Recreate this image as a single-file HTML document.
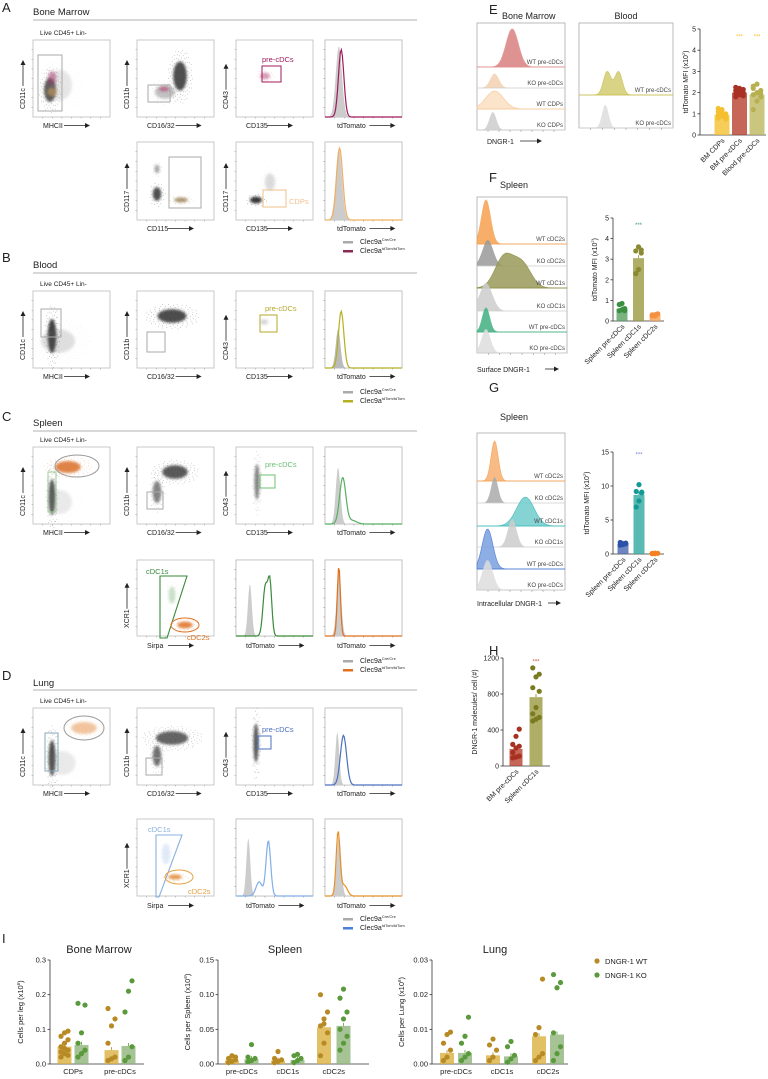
<!DOCTYPE html>
<html><head><meta charset="utf-8"><style>
body{margin:0;background:#fff}
svg{display:block;font-family:"Liberation Sans",sans-serif}
</style></head><body>
<svg id="fig" width="768" height="1079" viewBox="0 0 768 1079" xmlns="http://www.w3.org/2000/svg">
<defs><filter id="bl" x="-50%" y="-50%" width="200%" height="200%"><feGaussianBlur stdDeviation="1.4"/></filter></defs>
</svg>
<script>
// ---------- Data (bar charts) ----------
const eCats=["BM CDPs","BM pre-cDCs","Blood pre-cDCs"];
const eMeans=[0.95,2.0,1.9];
const ePts=[[0.8,0.9,1.0,1.1,1.2,0.85,0.95,1.05,0.75,1.25],[1.8,1.9,2.0,2.1,2.2,1.85,1.95,2.05,2.15,2.25],[1.2,1.6,1.8,1.9,2.0,2.1,2.3,2.4,1.95,2.2]];
const fCats=["Spleen pre-cDCs","Spleen cDC1s","Spleen cDC2s"];
const fMeans=[0.6,3.05,0.3];
const fPts=[[0.5,0.55,0.6,0.8,0.85,0.5],[2.3,2.5,3.3,3.4,3.6,3.45],[0.25,0.3,0.35,0.3,0.25]];
const gCats=["Spleen pre-cDCs","Spleen cDC1s","Spleen cDC2s"];
const gMeans=[1.5,8.7,0.1];
const gPts=[[1.3,1.5,1.6,1.7,1.4,1.5],[6.9,7.8,9.0,9.2,10.2,9.1],[0.05,0.1,0.1,0.1,0.05]];
const hCats=["BM pre-cDCs","Spleen cDC1s"];
const hMeans=[190,765];
const hPts=[[90,100,110,150,200,220,240,330,410],[500,520,540,580,650,830,870,990,1020,1090]];
const iBmCats=["CDPs","pre-cDCs"];
const iBmWT=[0.05,0.04];const iBmKO=[0.055,0.052];
const iBmWTpts=[[0.02,0.03,0.04,0.05,0.06,0.07,0.08,0.09,0.095,0.035,0.045,0.025],[0.01,0.015,0.02,0.06,0.11,0.13,0.16]];
const iBmKOpts=[[0.02,0.03,0.04,0.06,0.09,0.17,0.175],[0.01,0.02,0.05,0.15,0.21,0.24]];
const iSpCats=["pre-cDCs","cDC1s","cDC2s"];
const iSpWT=[0.005,0.005,0.053];const iSpKO=[0.007,0.006,0.055];
const iSpWTpts=[[0.002,0.004,0.006,0.008,0.012,0.01],[0.002,0.004,0.006,0.008,0.018],[0.012,0.03,0.045,0.055,0.065,0.075,0.1,0.058]];
const iSpKOpts=[[0.003,0.005,0.008,0.01,0.028],[0.002,0.005,0.008,0.012,0.014],[0.02,0.03,0.04,0.05,0.065,0.075,0.095,0.108]];
const iLuCats=["pre-cDCs","cDC1s","cDC2s"];
const iLuWT=[0.0032,0.0025,0.008];const iLuKO=[0.0032,0.0022,0.0085];
const iLuWTpts=[[0.001,0.002,0.004,0.006,0.0085,0.0092],[0.001,0.002,0.004,0.0055,0.0072],[0.001,0.002,0.003,0.0085,0.0105,0.0245]];
const iLuKOpts=[[0.001,0.002,0.003,0.006,0.008,0.0135],[0.0005,0.0015,0.0025,0.005,0.0065],[0.001,0.003,0.005,0.009,0.022,0.0235,0.0258]];

const S=document.getElementById('fig');const NS="http://www.w3.org/2000/svg";
function el(t,a,p){const e=document.createElementNS(NS,t);for(const k in a)e.setAttribute(k,a[k]);(p||S).appendChild(e);return e;}
function tx(x,y,s,size,opt){opt=opt||{};const e=el('text',{x:x,y:y,'font-size':size,fill:opt.fill||'#222','text-anchor':opt.anchor||'start'});if(opt.rot)e.setAttribute('transform',`rotate(${opt.rot} ${x} ${y})`);e.textContent=s;return e;}
function arrowH(x,y,len){el('line',{x1:x,y1:y,x2:x+len-4,y2:y,stroke:'#222','stroke-width':0.8});el('path',{d:`M${x+len} ${y} l-5 -2.5 v5z`,fill:'#222'});}
function arrowV(x,y,len){el('line',{x1:x,y1:y,x2:x,y2:y-len+4,stroke:'#222','stroke-width':0.8});el('path',{d:`M${x} ${y-len} l-2.5 5 h5z`,fill:'#222'});}

function section(letter,ly,title,ty,lineY){tx(2,ly,letter,13,{name:'panel-letter-'+letter.toLowerCase()});tx(33,ty,title,9.5,{name:'section-title'});const l=el('line',{x1:33,y1:lineY,x2:417,y2:lineY,stroke:'#999','stroke-width':0.8});}
section('A',12,'Bone Marrow',15,20);
section('B',262,'Blood',268,273);
section('C',421,'Spleen',426,431);
section('D',680,'Lung',686,690);

const CX=[33,137,236,325],W=77;
function box(x,y,h,name,ticks){const g=el('rect',{x:x,y:y,width:W,height:h,fill:'#fff',stroke:'#bbb','stroke-width':0.8});
 for(let i=1;i<8;i++){el('line',{x1:x+i*W/8,y1:y+h,x2:x+i*W/8,y2:y+h+1.5,stroke:'#999','stroke-width':0.5});if(ticks)el('line',{x1:x,y1:y+i*h/8,x2:x-1.5,y2:y+i*h/8,stroke:'#999','stroke-width':0.5});}}
function xlab(x,y,s){tx(x+10,y,s,7,{name:'x-axis-label'});arrowH(x+12+s.length*3.8,y-2.5,26);}
function ylab(x,y,h,s){tx(x-8,y+h-8,s,7,{rot:-90,name:'y-axis-label'});arrowV(x-10,y+h-12-s.length*3.8,26);}
// cell cloud: blurred core + deterministic golden-angle speckle texture
function cloud(cx,cy,rx,ry,c,op){const e=el('ellipse',{cx:cx,cy:cy,rx:rx*0.85,ry:ry*0.85,fill:c,opacity:op,filter:'url(#bl)'});
 const n=Math.round(rx*ry*0.9);let d='';for(let i=0;i<n;i++){const r=Math.sqrt((i+0.5)/n)*1.6,a=i*2.39996;d+=`M${(cx+Math.cos(a)*r*rx).toFixed(1)} ${(cy+Math.sin(a)*r*ry).toFixed(1)}h0.7v0.7h-0.7z`;}
 el('path',{d:d,fill:c,opacity:op*0.55});}
function gate(x,y,w,h,c,lab,lx,ly,name){const r=el('rect',{x:x,y:y,width:w,height:h,fill:'none',stroke:c,'stroke-width':1});if(lab)tx(lx,ly,lab,7.5,{fill:c,name:'gate-label'});}
function egate(cx,cy,rx,ry,c,name){const e=el('ellipse',{cx:cx,cy:cy,rx:rx,ry:ry,fill:'none',stroke:c,'stroke-width':1});}
function hist(x,y,h,curves){box(x,y,h,'histogram-plot',true);curves.forEach(c=>{let d=`M${x} ${y+h}`;for(let i=0;i<=80;i++){const u=i/80;let v=0;c.p.forEach(p=>{v+=p[2]*Math.exp(-((u-p[0])**2)/(2*p[1]*p[1]));});d+=` L${x+u*W} ${y+h-v*(h-6)}`;}const p=el('path',{d:d,fill:c.fill||'none',stroke:c.stroke||'none','stroke-width':1.2});});}
function legend(y,c2){el('rect',{x:343,y:y-3,width:10,height:2.5,fill:'#aaa'});tx(360,y,'',7,{name:'legend-entry'}).innerHTML='Clec9a<tspan font-size="4" dy="-3">Cre/Cre</tspan>';
 el('rect',{x:343,y:y+6,width:10,height:2.5,fill:c2});tx(360,y+9,'',7,{name:'legend-entry'}).innerHTML='Clec9a<tspan font-size="4" dy="-3">tdTom/tdTom</tspan>';}
function row1(y,opts){const h=77;
 tx(40,y-5,'Live CD45+ Lin-',6.5,{name:'gating-title'});
 for(let i=0;i<4;i++)box(CX[i],y,h,'flow-plot-'+(i+1),true);
 const L=[['MHCII','CD11c'],['CD16/32','CD11b'],['CD135','CD43'],['tdTomato',null]];
 L.forEach((l,i)=>{xlab(CX[i]+(i==3?2:0),y+h+11,l[0]);if(l[1])ylab(CX[i],y,h,l[1]);});
 opts(y,h);}
// A
row1(40,(y,h)=>{cloud(50,y+50,7,14,'#333',0.8);cloud(60,y+45,14,18,'#888',0.2);cloud(52,y+38,5,8,'#a0306a',0.5);cloud(52,y+52,6,5,'#d9a35a',0.5);gate(38,y+15,24,56,'#aaa');
 cloud(180,y+36,8,17,'#333',0.85);cloud(165,y+52,12,8,'#555',0.35);cloud(164,y+49,6,3,'#b04070',0.6);gate(148,y+45,22,17,'#aaa');
 cloud(265,y+36,6,4,'#b04070',0.5);gate(262,y+26,19,16,'#a01a5a','pre-cDCs',262,y+22);
 hist(325,y,h,[{p:[[0.18,0.04,1]],fill:'#ccc'},{p:[[0.21,0.035,0.95]],stroke:'#a01a5a'}]);});
(function(){const y=142,h=78;for(let i=1;i<4;i++)box(CX[i],y,h,'flow-plot-row2-'+i,true);
 cloud(157,y+52,5,8,'#333',0.85);cloud(157,y+27,3,5,'#555',0.5);cloud(181,y+58,8,3,'#8a6a3a',0.7);gate(169,y+15,32,51,'#aaa');
 cloud(256,y+58,7,4,'#222',0.9);cloud(270,y+40,6,10,'#777',0.25);gate(263,y+48,23,17,'#f2c08a','CDPs',289,y+62);
 hist(325,y,h,[{p:[[0.18,0.04,1]],fill:'#ccc'},{p:[[0.19,0.04,1]],stroke:'#f0b060'}]);
 xlab(137,y+h+11,'CD115');ylab(137,y,h,'CD117');xlab(236,y+h+11,'CD135');ylab(236,y,h,'CD117');xlab(327,y+h+11,'tdTomato');
 legend(244,'#8b2a50');})();
// B
row1(291,(y,h)=>{cloud(52,y+45,5,20,'#222',0.85);cloud(58,y+50,20,14,'#666',0.2);gate(41,y+18,20,28,'#aaa');
 cloud(172,y+25,17,8,'#222',0.8);gate(147,y+41,18,20,'#aaa');
 gate(260,y+24,17,17,'#b5a82a','pre-cDCs',265,y+20);cloud(264,y+31,5,3,'#bbb',0.6);
 hist(325,y,h,[{p:[[0.17,0.03,0.55]],fill:'#bbb'},{p:[[0.21,0.035,0.8]],stroke:'#b5b020'}]);});
legend(394,'#b5b020');
// C
row1(447,(y,h)=>{cloud(68,y+20,15,7,'#d8661a',0.8);egate(77,y+19,22,11,'#999','cdc-gate');cloud(52,y+50,4,21,'#333',0.8);cloud(60,y+55,14,14,'#777',0.15);gate(48,y+25,8,40,'#9c9');
 cloud(175,y+25,15,8,'#333',0.8);cloud(157,y+45,5,13,'#444',0.65);gate(147,y+45,16,17,'#aaa');
 cloud(257,y+35,3,21,'#444',0.65);gate(260,y+28,15,13,'#6cc070','pre-cDCs',265,y+20);
 hist(325,y,h,[{p:[[0.17,0.03,0.8]],fill:'#ccc'},{p:[[0.23,0.04,0.65],[0.35,0.06,0.05]],stroke:'#55b060'}]);});
(function(){const y=560,h=76;for(let i=1;i<4;i++)box(CX[i],y,h,'flow-plot-row2-'+i,true);
 el('path',{d:`M${160} ${y+16} h27 l-20 ${h-14} h-7z`,fill:'none',stroke:'#3a8a3a','stroke-width':1.1});tx(146,y+14,'cDC1s',7.5,{fill:'#3a8a3a',name:'gate-label'});
 cloud(172,y+35,4,10,'#6a6',0.35);cloud(185,y+65,9,4,'#e07020',0.85);egate(185,y+65,14,7,'#e07020','cdc2-gate');tx(187,y+80,'cDC2s',7.5,{fill:'#e07020',name:'gate-label'});
 hist(236,y,h,[{p:[[0.18,0.025,0.75]],fill:'#ccc'},{p:[[0.38,0.03,0.7],[0.44,0.025,0.75]],stroke:'#3a8a3a'}]);
 hist(325,y,h,[{p:[[0.18,0.03,0.9]],fill:'#ccc'},{p:[[0.18,0.02,1]],stroke:'#e07020'}]);
 xlab(137,y+h+12,'Sirpa');ylab(137,y,h,'XCR1');xlab(236,y+h+12,'tdTomato');xlab(327,y+h+12,'tdTomato');
 legend(663,'#e07020');})();
// D
row1(708,(y,h)=>{cloud(84,y+20,15,7,'#e8a060',0.6);egate(84,y+20,20,12,'#999','cdc-gate');cloud(52,y+50,4,21,'#333',0.85);cloud(62,y+55,16,14,'#777',0.15);gate(45,y+25,13,38,'#8ab');
 cloud(172,y+30,19,8,'#333',0.75);cloud(157,y+48,5,12,'#444',0.75);gate(146,y+50,16,17,'#aaa');
 cloud(256,y+35,3,23,'#333',0.8);gate(258,y+28,13,13,'#4a70c0','pre-cDCs',262,y+24);
 hist(325,y,h,[{p:[[0.16,0.025,0.75]],fill:'#ccc'},{p:[[0.24,0.04,0.7]],stroke:'#4a70c0'}]);});
(function(){const y=819,h=77;for(let i=1;i<4;i++)box(CX[i],y,h,'flow-plot-row2-'+i,true);
 el('path',{d:`M${156} ${y+16} h26 l-23 ${h-15} h-3z`,fill:'none',stroke:'#8ab0e0','stroke-width':1.1});tx(148,y+13,'cDC1s',7.5,{fill:'#8ab0e0',name:'gate-label'});
 cloud(166,y+35,5,12,'#9bbbe8',0.3);cloud(175,y+58,8,3,'#e08020',0.8);egate(179,y+58,14,7,'#e8a040','cdc2-gate');tx(188,y+75,'cDC2s',7.5,{fill:'#e8a040',name:'gate-label'});
 hist(236,y,h,[{p:[[0.16,0.025,0.82]],fill:'#ccc'},{p:[[0.42,0.03,0.78],[0.3,0.04,0.2]],stroke:'#80aee8'}]);
 hist(325,y,h,[{p:[[0.18,0.03,0.85]],fill:'#ccc'},{p:[[0.17,0.025,0.9],[0.25,0.04,0.15]],stroke:'#e8902a'}]);
 xlab(137,y+h+12,'Sirpa');xlab(236,y+h+12,'tdTomato');xlab(327,y+h+12,'tdTomato');ylab(137,y,h,'XCR1');
 legend(921,'#4a80d8');})();

function stack(x,y,w,h,rows,name){const r=el('rect',{x:x,y:y,width:w,height:h,fill:'#fff',stroke:'#aaa','stroke-width':0.8});
 rows.forEach(rw=>{const base=rw.y1;let d=`M${x} ${base}`;for(let i=0;i<=80;i++){const u=i/80;let v=0;rw.p.forEach(p=>{v+=p[2]*Math.exp(-((u-p[0])**2)/(2*p[1]*p[1]));});d+=` L${x+u*w} ${base-v*rw.hgt}`;}d+=` L${x+w} ${base}Z`;
  const p=el('path',{d:d,fill:rw.fill,stroke:rw.stroke||'none','stroke-width':0.8,opacity:0.85});
  el('line',{x1:x,y1:base,x2:x+w,y2:base,stroke:rw.stroke||'#ccc','stroke-width':0.7});tx(x+w-2,base-3,rw.lab,6,{anchor:'end',fill:'#444',name:'row-label'});});
 for(let i=1;i<8;i++)el('line',{x1:x+i*w/8,y1:y+h,x2:x+i*w/8,y2:y+h+2,stroke:'#888','stroke-width':0.5});}
tx(489,14,'E',13,{name:'panel-letter-e'});
tx(502,19,'Bone Marrow',9,{name:'histogram-title'});tx(626,19,'Blood',9,{anchor:'middle',name:'histogram-title'});
stack(477,23,88,107,[{y1:67,p:[[0.4,0.07,1]],fill:'#d98080',stroke:'#e08a8a',hgt:38,lab:'WT pre-cDCs'},{y1:88,p:[[0.2,0.05,0.8]],fill:'#f2d0b0',hgt:18,lab:'KO pre-cDCs'},{y1:109,p:[[0.2,0.1,0.9]],fill:'#fbe0c0',stroke:'#f5c79a',hgt:20,lab:'WT CDPs'},{y1:130,p:[[0.18,0.04,0.9]],fill:'#ccc',hgt:20,lab:'KO CDPs'}],'bm-dngr1-histograms');
stack(579,23,94,105,[{y1:95,p:[[0.3,0.04,0.9],[0.42,0.04,0.9]],fill:'#d2cc70',stroke:'#c8c050',hgt:26,lab:'WT pre-cDCs'},{y1:128,p:[[0.28,0.035,0.9]],fill:'#ddd',hgt:26,lab:'KO pre-cDCs'}],'blood-dngr1-histograms');
tx(487,144,'DNGR-1',7,{name:'x-axis-label'});arrowH(520,141,22);
tx(489,182,'F',13,{name:'panel-letter-f'});tx(500,188,'Spleen',9,{name:'section-title'});
stack(477,197,90,156,[{y1:244,p:[[0.1,0.05,1]],fill:'#f5a050',stroke:'#f5a050',hgt:44,lab:'WT cDC2s'},{y1:266,p:[[0.12,0.06,1]],fill:'#999',hgt:26,lab:'KO cDC2s'},{y1:288,p:[[0.3,0.1,0.9],[0.5,0.1,0.7]],fill:'#9a9a5a',stroke:'#8a8a40',hgt:34,lab:'WT cDC1s'},{y1:311,p:[[0.1,0.07,1]],fill:'#ccc',hgt:28,lab:'KO cDC1s'},{y1:332,p:[[0.1,0.04,1]],fill:'#40b080',stroke:'#40b080',hgt:24,lab:'WT pre-cDCs'},{y1:353,p:[[0.1,0.05,1]],fill:'#ddd',hgt:24,lab:'KO pre-cDCs'}],'spleen-surface-histograms');
tx(477,372,'Surface DNGR-1',7,{name:'x-axis-label'});arrowH(545,369,14);
tx(489,392,'G',13,{name:'panel-letter-g'});tx(500,420,'Spleen',9,{name:'section-title'});
stack(477,433,88,157,[{y1:481,p:[[0.2,0.04,1]],fill:'#f7b070',stroke:'#f5a050',hgt:40,lab:'WT cDC2s'},{y1:503,p:[[0.2,0.04,1]],fill:'#aaa',hgt:26,lab:'KO cDC2s'},{y1:526,p:[[0.55,0.1,0.9]],fill:'#70cccc',stroke:'#40b8b8',hgt:32,lab:'WT cDC1s'},{y1:547,p:[[0.4,0.05,1]],fill:'#ccc',hgt:28,lab:'KO cDC1s'},{y1:569,p:[[0.12,0.06,1]],fill:'#7aa0e0',stroke:'#4a78d0',hgt:40,lab:'WT pre-cDCs'},{y1:590,p:[[0.12,0.06,1]],fill:'#ddd',hgt:30,lab:'KO pre-cDCs'}],'spleen-intracellular-histograms');
tx(477,606,'Intracellular DNGR-1',7,{name:'x-axis-label'});arrowH(548,603,13);
tx(489,655,'H',13,{name:'panel-letter-h'});
tx(2,943,'I',13,{name:'panel-letter-i'});

function bars(o){const ys=v=>o.y0-(v/o.max)*(o.y0-o.y1);
 el('line',{x1:o.ax,y1:o.y1,x2:o.ax,y2:o.y0,stroke:'#333','stroke-width':0.8});el('line',{x1:o.ax,y1:o.y0,x2:o.xend,y2:o.y0,stroke:'#333','stroke-width':0.8});
 o.ticks.forEach((t,i)=>{const y=ys(t);el('line',{x1:o.ax-2.5,y1:y,x2:o.ax,y2:y,stroke:'#333','stroke-width':0.8});tx(o.ax-4,y+2.5,o.tickLab[i],o.fs,{anchor:'end',name:'y-tick-label'});});
 tx(o.ylx,(o.y0+o.y1)/2,'',o.fs,{anchor:'middle',rot:-90,name:'y-axis-title'}).innerHTML=o.ytitle;
 o.series.forEach(s=>{s.means.forEach((m,i)=>{const cx=o.cx(i,s.k),y=ys(m);const b=el('rect',{x:cx-o.bw/2,y:y,width:o.bw,height:o.y0-y,fill:s.fill[i%s.fill.length],opacity:0.8});
   el('line',{x1:cx,y1:y,x2:cx,y2:y-3,stroke:s.pc[i%s.pc.length],'stroke-width':0.8});
   s.pts[i].forEach((v,j)=>{const d=el('circle',{cx:cx+((j%3)-1)*o.bw*0.25,cy:ys(v),r:o.r,fill:s.pc[i%s.pc.length]});});});});
 o.cats.forEach((c,i)=>{const cx=o.cx(i,o.mid);if(o.rot)tx(cx+3,o.y0+6,c,o.fs,{anchor:'end',rot:-45,name:'x-tick-label'});else tx(cx,o.y0+10,c,o.fs,{anchor:'middle',name:'x-tick-label'});});
 (o.stars||[]).forEach(st=>tx(o.cx(st[0],0),ys(st[1])+3,'***',6,{anchor:'middle',fill:st[2],name:'significance-marker'}));}
bars({ax:700,y0:135,y1:29,xend:766,max:5,ticks:[0,1,2,3,4,5],tickLab:['0','1','2','3','4','5'],fs:7,ylx:688,ytitle:'tdTomato MFI (x10<tspan font-size="4" dy="-3">2</tspan><tspan dy="3">)</tspan>',cats:eCats,bw:15,r:2.6,rot:true,mid:0,
 cx:(i)=>722+i*17.5,series:[{k:0,means:eMeans,pts:ePts,fill:['#f5c030','#b84030','#bdb860'],pc:['#f5c030','#a83025','#b8b050']}],stars:[[1,4.7,'#f5c030'],[2,4.7,'#f5c030']]});
bars({ax:613,y0:321,y1:218,xend:664,max:5,ticks:[0,1,2,3,4,5],tickLab:['0','1','2','3','4','5'],fs:7,ylx:597,ytitle:'tdTomato MFI (x10<tspan font-size="4" dy="-3">2</tspan><tspan dy="3">)</tspan>',cats:fCats,bw:11,r:2.6,rot:true,mid:0,
 cx:(i)=>622+i*16.5,series:[{k:0,means:fMeans,pts:fPts,fill:['#5aa060','#9a9a40','#f5a050'],pc:['#3a9040','#8a8a30','#f59040']}],stars:[[1,4.7,'#3a9a6a']]});
bars({ax:613,y0:554,y1:452,xend:664,max:15,ticks:[0,5,10,15],tickLab:['0','5','10','15'],fs:7,ylx:589,ytitle:'tdTomato MFI (x10<tspan font-size="4" dy="-3">2</tspan><tspan dy="3">)</tspan>',cats:gCats,bw:11,r:2.6,rot:true,mid:0,
 cx:(i)=>623+i*16,series:[{k:0,means:gMeans,pts:gPts,fill:['#4a68b0','#30a8a0','#f59040'],pc:['#2a50a8','#149a95','#f58020']}],stars:[[1,14.8,'#7088cc']]});
bars({ax:503,y0:766,y1:658,xend:550,max:1200,ticks:[0,400,800,1200],tickLab:['0','400','800','1200'],fs:7,ylx:477,ytitle:'DNGR-1 molecules/ cell (#)',cats:hCats,bw:13,r:2.6,rot:true,mid:0,
 cx:(i)=>516+i*20,series:[{k:0,means:hMeans,pts:hPts,fill:['#b84030','#9a9a40'],pc:['#a83020','#7a7a20']}],stars:[[1,1170,'#c05040']]});
const iSeries=(wt,ko,wp,kp)=>[{k:0,means:wt,pts:wp,fill:['#d9b040'],pc:['#b88a25']},{k:1,means:ko,pts:kp,fill:['#8fb47a'],pc:['#5a9a3c']}];
tx(99,953,'Bone Marrow',11,{anchor:'middle',name:'chart-title'});
bars({ax:50,y0:1064,y1:960,xend:144,max:0.3,ticks:[0,0.1,0.2,0.3],tickLab:['0.0','0.1','0.2','0.3'],fs:7.5,ylx:23,ytitle:'Cells per leg (x10<tspan font-size="4.5" dy="-3">6</tspan><tspan dy="3">)</tspan>',cats:iBmCats,bw:14,r:2.6,mid:0.5,
 cx:(i,k)=>64.5+i*47+k*17,series:iSeries(iBmWT,iBmKO,iBmWTpts,iBmKOpts)});
tx(285,953,'Spleen',11,{anchor:'middle',name:'chart-title'});
bars({ax:218,y0:1064,y1:960,xend:369,max:0.15,ticks:[0,0.05,0.1,0.15],tickLab:['0.00','0.05','0.10','0.15'],fs:7.5,ylx:190,ytitle:'Cells per Spleen (x10<tspan font-size="4.5" dy="-3">6</tspan><tspan dy="3">)</tspan>',cats:iSpCats,bw:14,r:2.6,mid:0.5,
 cx:(i,k)=>232+i*46+k*19.5,series:iSeries(iSpWT,iSpKO,iSpWTpts,iSpKOpts)});
tx(495,953,'Lung',11,{anchor:'middle',name:'chart-title'});
bars({ax:432,y0:1064,y1:960,xend:568,max:0.03,ticks:[0,0.01,0.02,0.03],tickLab:['0.00','0.01','0.02','0.03'],fs:7.5,ylx:404,ytitle:'Cells per Lung (x10<tspan font-size="4.5" dy="-3">6</tspan><tspan dy="3">)</tspan>',cats:iLuCats,bw:14,r:2.6,mid:0.5,
 cx:(i,k)=>447+i*46+k*18,series:iSeries(iLuWT,iLuKO,iLuWTpts,iLuKOpts)});
[['DNGR-1 WT','#b88a25',964],['DNGR-1 KO','#5a9a3c',978]].forEach(l=>{const c=el('circle',{cx:597,cy:l[2]-3,r:2.6,fill:l[1]});tx(605,l[2],l[0],7.5,{name:'legend-entry'});});
</script>
</body></html>
